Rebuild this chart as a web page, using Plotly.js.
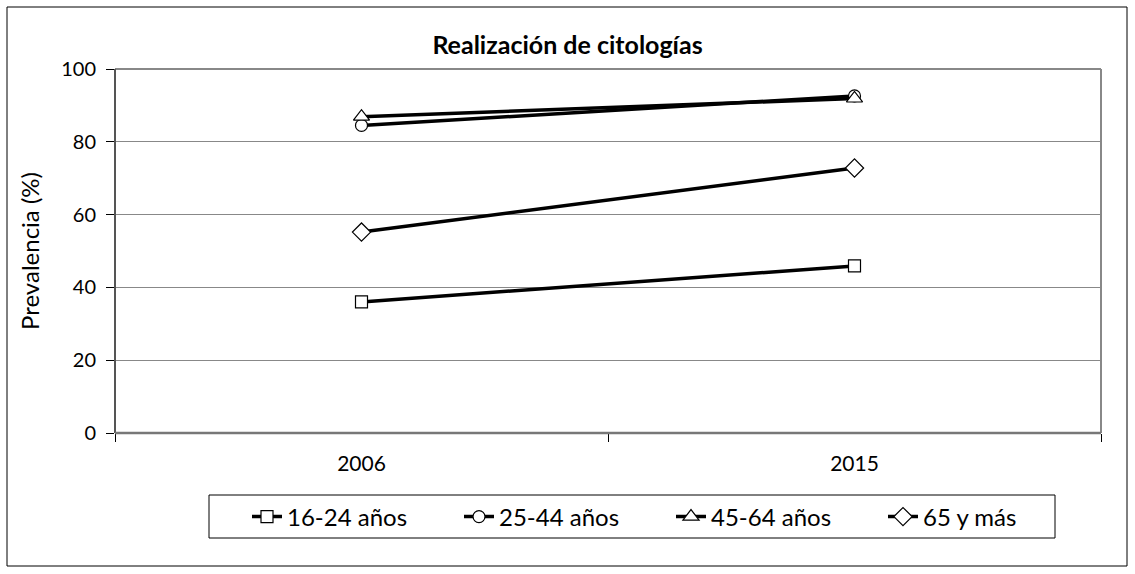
<!DOCTYPE html>
<html>
<head>
<meta charset="utf-8">
<script src="https://cdn.plot.ly/plotly-3.0.1.min.js"></script>
<style>html,body{margin:0;padding:0;background:#fff;}#chart{width:1135px;height:574px;}</style>
</head>
<body>
<div id="chart"></div>
<script>
const years = ["2006", "2015"];
const seriesNames = ["16-24 años", "25-44 años", "45-64 años", "65 y más"];
const v1624 = [36.0, 45.9];
const v2544 = [84.5, 92.6];
const v4564 = [86.9, 91.9];
const v65 = [55.2, 72.8];
const yTicks = [0, 20, 40, 60, 80, 100];

const symbols = ["square", "circle", "triangle-up", "diamond"];
const sizes = [12, 12, 14, 14];
const values = [v1624, v2544, v4564, v65];

const traces = values.map((v, i) => ({
  x: years, y: v, name: seriesNames[i], type: "scatter", mode: "lines+markers",
  line: {color: "#000", width: 3.5},
  marker: {symbol: symbols[i], size: sizes[i], color: "#fff", line: {color: "#000", width: 1.2}},
  cliponaxis: false
}));

const W = 1135, H = 574, L = 115, R = 1101, T = 69, B = 433;
const px = x => (x - L) / (R - L);
const py = y => (B - y) / (B - T);

const layout = {
  width: W, height: H,
  margin: {l: L, r: W - R, t: T, b: H - B},
  paper_bgcolor: "#fff", plot_bgcolor: "#fff",
  font: {family: "Lato, 'Open Sans', sans-serif", color: "#000", size: 20},
  title: {text: "<b>Realización de citologías</b>", x: 0.5, xref: "container", xanchor: "center", y: 1 - 45 / H, yref: "container", yanchor: "middle", font: {size: 25, family: "Lato, sans-serif"}},
  showlegend: true,
  legend: {orientation: "h", x: px(247), xanchor: "left", y: py(517), yanchor: "middle",
    entrywidth: 167, entrywidthmode: "pixels", font: {size: 24}, bgcolor: "rgba(0,0,0,0)", borderwidth: 0,
    itemwidth: 30, tracegroupgap: 0},
  xaxis: {type: "category", range: [-0.5, 1.5], tickson: "boundaries", ticks: "outside", ticklen: 8,
    tickcolor: "#000", tickwidth: 1, showgrid: false, showline: false, zeroline: false,
    tickfont: {size: 21}, ticklabelstandoff: 16, fixedrange: true},
  yaxis: {range: [0, 100], tickvals: yTicks, ticks: "outside", ticklen: 8, tickcolor: "#000",
    tickwidth: 1, showgrid: true, gridcolor: "#888", gridwidth: 1, zeroline: false,
    showline: false, tickfont: {size: 20}, ticklabelstandoff: 6,
    title: {text: "Prevalencia (%)", font: {size: 24}, standoff: 14}},
  shapes: [
    {type: "rect", xref: "paper", yref: "paper", x0: px(7), x1: px(1127), y0: py(566), y1: py(7), line: {color: "#000", width: 1}, layer: "below"},
    {type: "line", xref: "paper", yref: "paper", x0: 0, x1: 1, y0: 1, y1: 1, line: {color: "#888", width: 2}},
    {type: "line", xref: "paper", yref: "paper", x0: 1, x1: 1, y0: 0, y1: 1, line: {color: "#888", width: 2}},
    {type: "line", xref: "paper", yref: "paper", x0: 0, x1: 0, y0: 0, y1: 1, line: {color: "#555", width: 2}},
    {type: "line", xref: "paper", yref: "paper", x0: 0, x1: 1, y0: 0, y1: 0, line: {color: "#777", width: 2.5}},
    {type: "rect", xref: "paper", yref: "paper", x0: px(209), x1: px(1055), y0: py(538), y1: py(495), line: {color: "#000", width: 1}}
  ]
};

Plotly.newPlot("chart", traces, layout, {displayModeBar: false, staticPlot: true});
</script>
</body>
</html>
